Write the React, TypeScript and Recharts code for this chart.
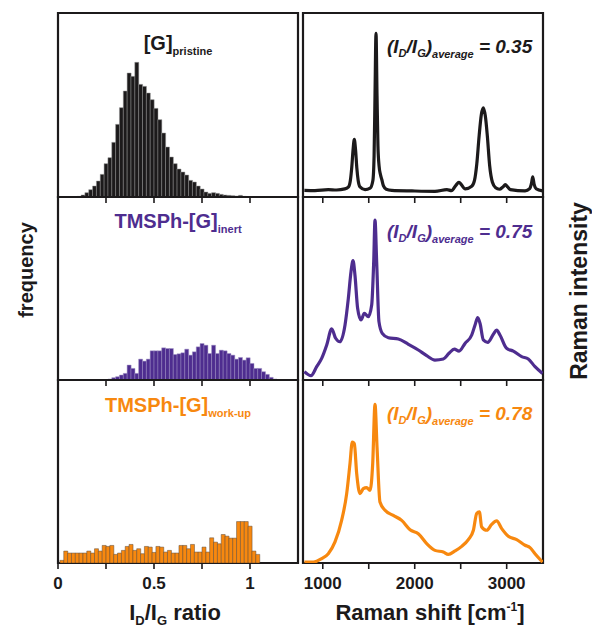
import { Bar, BarChart, Label, Line, LineChart, ReferenceArea, XAxis, YAxis } from "recharts";

const FONT = '"Liberation Sans", Arial, Helvetica, sans-serif';
const INK = "#1c1a1b";
const PURPLE = "#4e2d8f";
const ORANGE = "#f7880f";

// axes
const RATIO_DOMAIN = [0, 1.25];
const RATIO_TICKS = [0, 0.25, 0.5, 0.75, 1];
const RATIO_LABELS = ["0", "", "0.5", "", "1"];
const SHIFT_DOMAIN = [785, 3395];
const SHIFT_TICKS = [1000, 1500, 2000, 2500, 3000];
const SHIFT_LABELS = ["1000", "", "2000", "", "3000"];
const COUNT_MAX = 552;
const INTENSITY_MAX = 100;
const BIN_WIDTH = 0.02;

// I_D/I_G histograms (bin centres start + counts)
const pristineStart = 0.11;
const pristineCounts = [
  2, 6, 13, 22, 33, 48, 68, 100, 118, 164, 218, 268, 318, 372, 362, 404, 338, 332, 312, 292, 266, 232,
  192, 150, 120, 100, 84, 75, 66, 50, 45, 33, 24, 15, 11, 13, 11, 8, 6, 5, 4, 3, 5, 2,
];
const inertStart = 0.27;
const inertCounts = [
  3, 7, 10, 15, 20, 45, 35, 20, 63, 57, 63, 88, 88, 88, 97, 95, 95, 77, 79, 82, 93, 75, 85, 100, 110,
  105, 80, 105, 80, 90, 88, 80, 75, 63, 68, 60, 67, 50, 35, 35, 25, 17, 8, 3,
];
const workupStart = 0.02;
const workupCounts = [
  8, 36, 30, 30, 30, 30, 30, 36, 30, 43, 36, 53, 50, 53, 26, 30, 38, 50, 56, 38, 43, 28, 50, 48, 32, 50,
  48, 33, 38, 30, 30, 53, 53, 43, 56, 33, 33, 48, 33, 76, 63, 58, 86, 81, 75, 75, 125, 125, 125, 111, 36, 26,
];

// Raman spectra
const pristineShift = [
  800, 915, 1060, 1150, 1240, 1280, 1300, 1315, 1330, 1343, 1356, 1370, 1385, 1405, 1460, 1515, 1545, 1558,
  1568, 1579, 1590, 1600, 1612, 1628, 1642, 1660, 1690, 1750, 1970, 2220, 2350, 2400, 2450, 2480, 2550,
  2620, 2650, 2675, 2700, 2725, 2746, 2768, 2790, 2815, 2845, 2880, 2920, 2960, 2985, 3010, 3040, 3200,
  3250, 3270, 3283, 3298, 3320, 3390,
];
const pristineIntensity = [
  3.6, 3.5, 4.0, 3.8, 4.4, 5.5, 9, 16, 26, 31.3, 26, 16, 9, 5.5, 4.0, 4.8, 9, 22, 55, 89, 55, 28, 17, 12,
  9.5, 6, 4.2, 3.6, 3.3, 3.1, 4.0, 3.5, 6.5, 8, 4.4, 5.8, 9, 18, 33, 45, 48.5, 44, 33, 17, 8, 5, 4.2, 5.5,
  6.7, 5.5, 4.0, 3.3, 4.5, 7.5, 10.9, 7, 4.5, 3.3,
];
const inertShift = [
  800, 872, 934, 988, 1043, 1097, 1140, 1187, 1242, 1278, 1307, 1329, 1350, 1379, 1415, 1452, 1495, 1532,
  1554, 1568, 1586, 1611, 1647, 1713, 1822, 1931, 2039, 2130, 2220, 2311, 2373, 2431, 2482, 2547, 2620,
  2656, 2685, 2710, 2746, 2794, 2855, 2891, 2927, 2999, 3072, 3163, 3235, 3308, 3390,
];
const inertIntensity = [
  4.6, 2.4, 7.3, 11.8, 19.1, 27.9, 22.8, 20.9, 30.1, 44.6, 59.2, 65.2, 57.4, 39.2, 32.8, 36.4, 34.6, 41,
  64.7, 87.4, 64.7, 31.9, 25.5, 23.1, 22.4, 19.5, 16.4, 13.3, 10.9, 11.5, 14.6, 16.9, 15.8, 20, 24.6, 30.1,
  34.1, 31, 21.9, 20.6, 25, 27.3, 24.6, 17.3, 15.8, 12.8, 11.5, 7.3, 3.6,
];
const workupShift = [
  800, 897, 988, 1060, 1133, 1205, 1260, 1296, 1321, 1343, 1369, 1405, 1441, 1477, 1514, 1543, 1568, 1590,
  1622, 1677, 1767, 1858, 1949, 2039, 2130, 2220, 2311, 2365, 2438, 2511, 2583, 2638, 2674, 2703, 2728,
  2783, 2837, 2891, 2946, 3018, 3109, 3200, 3254, 3308, 3390,
];
const workupIntensity = [
  0.5, 0.5, 2.4, 5.1, 11.5, 23.3, 37.9, 54.3, 66.1, 65.2, 48.8, 37.9, 40.6, 41.2, 39.7, 54.3, 86.7, 63.4,
  33.3, 28.8, 26, 23.3, 18.2, 16, 10.6, 6.9, 6, 4.7, 6.6, 9.1, 12.8, 17.9, 27, 27.9, 19.7, 17.9, 21.1, 23,
  18.8, 14.6, 12.8, 9.7, 8.4, 5.1, 0.5,
];

const ratios = ["0.35", "0.75", "0.78"];

// panel geometry (plot area top / height, axis strip below)
const ROWS = [
  { top: 13, h: 184, axisH: 10 },
  { top: 197, h: 183, axisH: 10 },
  { top: 380, h: 183, axisH: 69 },
];

const tickStyle = { fill: INK, fontSize: 17, fontWeight: 700, fontFamily: FONT };

const toBins = (start: number, counts: number[]) =>
  counts.map((n, i) => ({ x: +(start + i * BIN_WIDTH).toFixed(3), n }));
const toSpectrum = (shift: number[], intensity: number[]) =>
  shift.map((x, i) => ({ x, y: intensity[i] }));

function Title({ x, y, main, sub, color }: any) {
  return (
    <text x={x} y={y} textAnchor="middle" fill={color} fontFamily={FONT} fontWeight={700} fontSize={20}>
      {main}
      <tspan fontSize={11} dy={5}>
        {sub}
      </tspan>
    </text>
  );
}

function Ratio({ x, y, value, color }: any) {
  return (
    <text x={x} y={y} fill={color} fontFamily={FONT} fontWeight={700} fontStyle="italic" fontSize={19}>
      (I<tspan fontSize={11} dy={4}>D</tspan>
      <tspan dy={-4}>/I</tspan>
      <tspan fontSize={11} dy={4}>G</tspan>
      <tspan dy={-4}>)</tspan>
      <tspan fontSize={11} dy={5}>average</tspan>
      <tspan dy={-5}> = {value}</tspan>
    </text>
  );
}

function HistPanel({ row, data, fill, edge, main, sub, color }: any) {
  const { top, h, axisH } = ROWS[row];
  const bottom = row === 2;
  return (
    <div style={{ position: "absolute", left: 0, top: top - 4 }}>
      <BarChart
        width={304}
        height={4 + h + axisH}
        data={data}
        margin={{ top: 4, right: 6, bottom: 0, left: 58 }}
        barCategoryGap={0}
        barGap={0}
      >
        <XAxis
          dataKey="x"
          type="number"
          domain={RATIO_DOMAIN}
          ticks={RATIO_TICKS}
          interval={0}
          allowDataOverflow
          height={axisH}
          axisLine={false}
          tickSize={6}
          tickMargin={8}
          tickLine={{ stroke: INK, strokeWidth: 1.6 }}
          tick={tickStyle}
          tickFormatter={(v: number) => (bottom ? RATIO_LABELS[RATIO_TICKS.indexOf(v)] : "")}
        >
          {bottom && (
            <Label
              content={({ viewBox }: any) => (
                <text
                  x={viewBox.x + viewBox.width / 2 - 3}
                  y={viewBox.y + 57}
                  textAnchor="middle"
                  fill={INK}
                  fontFamily={FONT}
                  fontWeight={700}
                  fontSize={22}
                >
                  I<tspan fontSize={13} dy={5}>D</tspan>
                  <tspan dy={-5}>/I</tspan>
                  <tspan fontSize={13} dy={5}>G</tspan>
                  <tspan dy={-5}> ratio</tspan>
                </text>
              )}
            />
          )}
        </XAxis>
        <YAxis hide domain={[0, COUNT_MAX]} allowDataOverflow />
        <Bar dataKey="n" fill={fill} stroke={edge} strokeWidth={0.5} isAnimationActive={false} />
        <ReferenceArea
          x1={RATIO_DOMAIN[0]}
          x2={RATIO_DOMAIN[1]}
          y1={0}
          y2={COUNT_MAX}
          fill="none"
          fillOpacity={0}
          stroke={INK}
          strokeWidth={2.2}
          ifOverflow="visible"
          label={({ viewBox }: any) => (
            <g>
              <Title x={viewBox.x + viewBox.width / 2} y={viewBox.y + [37, 31, 32][row]} main={main} sub={sub} color={color} />
              {row === 1 && (
                <text
                  x={viewBox.x - 25}
                  y={viewBox.y + 73}
                  transform={`rotate(-90, ${viewBox.x - 25}, ${viewBox.y + 73})`}
                  textAnchor="middle"
                  fill={INK}
                  fontFamily={FONT}
                  fontWeight={700}
                  fontSize={20}
                >
                  frequency
                </text>
              )}
            </g>
          )}
        />
      </BarChart>
    </div>
  );
}

function SpectrumPanel({ row, data, color, value }: any) {
  const { top, h, axisH } = ROWS[row];
  const bottom = row === 2;
  return (
    <div style={{ position: "absolute", left: 297, top: top - 4 }}>
      <LineChart width={295} height={4 + h + axisH} data={data} margin={{ top: 4, right: 49, bottom: 0, left: 6 }}>
        <XAxis
          dataKey="x"
          type="number"
          domain={SHIFT_DOMAIN}
          ticks={SHIFT_TICKS}
          interval={0}
          allowDataOverflow
          height={axisH}
          axisLine={false}
          tickSize={6}
          tickMargin={8}
          tickLine={{ stroke: INK, strokeWidth: 1.6 }}
          tick={tickStyle}
          tickFormatter={(v: number) => (bottom ? SHIFT_LABELS[SHIFT_TICKS.indexOf(v)] : "")}
        >
          {bottom && (
            <Label
              content={({ viewBox }: any) => (
                <text
                  x={viewBox.x + viewBox.width / 2 + 7}
                  y={viewBox.y + 57}
                  textAnchor="middle"
                  fill={INK}
                  fontFamily={FONT}
                  fontWeight={700}
                  fontSize={22}
                >
                  Raman shift [cm<tspan fontSize={12} dy={-9}>-1</tspan>
                  <tspan dy={9}>]</tspan>
                </text>
              )}
            />
          )}
        </XAxis>
        <YAxis hide domain={[0, INTENSITY_MAX]} allowDataOverflow />
        <Line
          type="monotone"
          dataKey="y"
          stroke={color}
          strokeWidth={3.2}
          dot={false}
          isAnimationActive={false}
        />
        <ReferenceArea
          x1={SHIFT_DOMAIN[0]}
          x2={SHIFT_DOMAIN[1]}
          y1={0}
          y2={INTENSITY_MAX}
          fill="none"
          fillOpacity={0}
          stroke={INK}
          strokeWidth={2.2}
          ifOverflow="visible"
          label={({ viewBox }: any) => (
            <g>
              <Ratio x={viewBox.x + 84} y={viewBox.y + [40, 41, 40][row]} value={value} color={color} />
              {row === 1 && (
                <text
                  x={viewBox.x + 284}
                  y={viewBox.y + 94}
                  transform={`rotate(-90, ${viewBox.x + 284}, ${viewBox.y + 94})`}
                  textAnchor="middle"
                  fill={INK}
                  fontFamily={FONT}
                  fontWeight={700}
                  fontSize={23}
                >
                  Raman intensity
                </text>
              )}
            </g>
          )}
        />
      </LineChart>
    </div>
  );
}

export default function App() {
  return (
    <div style={{ position: "absolute", left: 0, top: 0, width: 592, height: 632, background: "#fff" }}>
      <HistPanel row={0} data={toBins(pristineStart, pristineCounts)} fill={INK} edge="#9a9a9a" main="[G]" sub="pristine" color={INK} />
      <HistPanel row={1} data={toBins(inertStart, inertCounts)} fill={PURPLE} edge="#a295c6" main="TMSPh-[G]" sub="inert" color={PURPLE} />
      <HistPanel row={2} data={toBins(workupStart, workupCounts)} fill={ORANGE} edge="#5b4a3c" main="TMSPh-[G]" sub="work-up" color={ORANGE} />
      <SpectrumPanel row={0} data={toSpectrum(pristineShift, pristineIntensity)} color={INK} value={ratios[0]} />
      <SpectrumPanel row={1} data={toSpectrum(inertShift, inertIntensity)} color={PURPLE} value={ratios[1]} />
      <SpectrumPanel row={2} data={toSpectrum(workupShift, workupIntensity)} color={ORANGE} value={ratios[2]} />
    </div>
  );
}
